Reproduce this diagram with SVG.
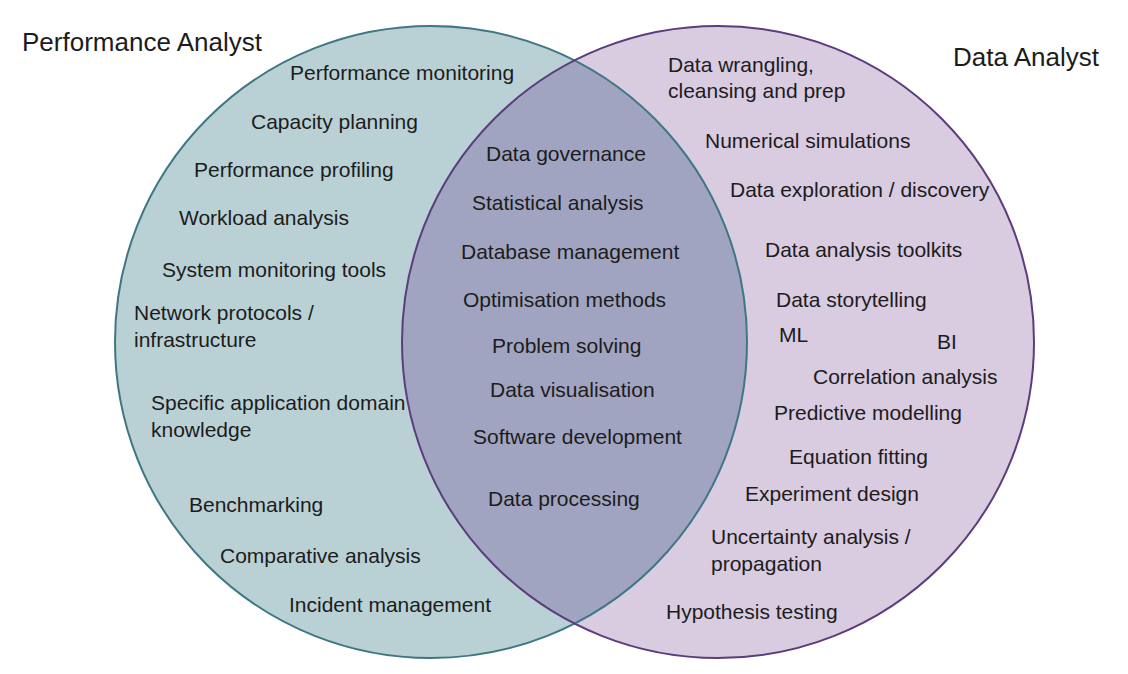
<svg xmlns="http://www.w3.org/2000/svg" width="1128" height="674" viewBox="0 0 1128 674">
<style>
text{font-family:"Liberation Sans",Arial,sans-serif;font-size:21px;fill:#1c1c1c}
.h{font-size:26px}
.l-stroke{fill:none;stroke:#3e7783;stroke-width:2}
.r-stroke{fill:none;stroke:#5b3d7e;stroke-width:2}
</style>
<defs>
<clipPath id="clipLeft"><circle cx="431" cy="342" r="316"/></clipPath>
</defs>
<rect width="1128" height="674" fill="#ffffff"/>
<g id="circles">
<circle id="left-fill" cx="431" cy="342" r="316" fill="#b9d1d5"/>
<circle id="right-fill" cx="718" cy="342" r="316" fill="#d9cbe0"/>
<circle id="overlap-fill" cx="718" cy="342" r="316" fill="#a1a4c0" clip-path="url(#clipLeft)"/>
<circle class="l-stroke" cx="431" cy="342" r="316"/>
<circle class="r-stroke" cx="718" cy="342" r="316"/>
</g>
<g id="headings">
<text class="h" x="22" y="51">Performance Analyst</text>
<text class="h" x="953" y="66">Data Analyst</text>
</g>
<g id="performance-analyst">
<text x="290" y="80">Performance monitoring</text>
<text x="251" y="129">Capacity planning</text>
<text x="194" y="177">Performance profiling</text>
<text x="179" y="225">Workload analysis</text>
<text x="162" y="277">System monitoring tools</text>
<text x="134" y="320">Network protocols /</text>
<text x="134" y="347">infrastructure</text>
<text x="151" y="410">Specific application domain</text>
<text x="151" y="437">knowledge</text>
<text x="189" y="512">Benchmarking</text>
<text x="220" y="563">Comparative analysis</text>
<text x="289" y="612">Incident management</text>
</g>
<g id="shared">
<text x="486" y="161">Data governance</text>
<text x="472" y="210">Statistical analysis</text>
<text x="461" y="259">Database management</text>
<text x="463" y="307">Optimisation methods</text>
<text x="492" y="353">Problem solving</text>
<text x="490" y="397">Data visualisation</text>
<text x="473" y="444">Software development</text>
<text x="488" y="506">Data processing</text>
</g>
<g id="data-analyst">
<text x="668" y="72">Data wrangling,</text>
<text x="668" y="98">cleansing and prep</text>
<text x="705" y="148">Numerical simulations</text>
<text x="730" y="197">Data exploration / discovery</text>
<text x="765" y="257">Data analysis toolkits</text>
<text x="776" y="307">Data storytelling</text>
<text x="779" y="342">ML</text>
<text x="937" y="349">BI</text>
<text x="813" y="384">Correlation analysis</text>
<text x="774" y="420">Predictive modelling</text>
<text x="789" y="464">Equation fitting</text>
<text x="745" y="501">Experiment design</text>
<text x="711" y="544">Uncertainty analysis /</text>
<text x="711" y="571">propagation</text>
<text x="666" y="619">Hypothesis testing</text>
</g>
</svg>
